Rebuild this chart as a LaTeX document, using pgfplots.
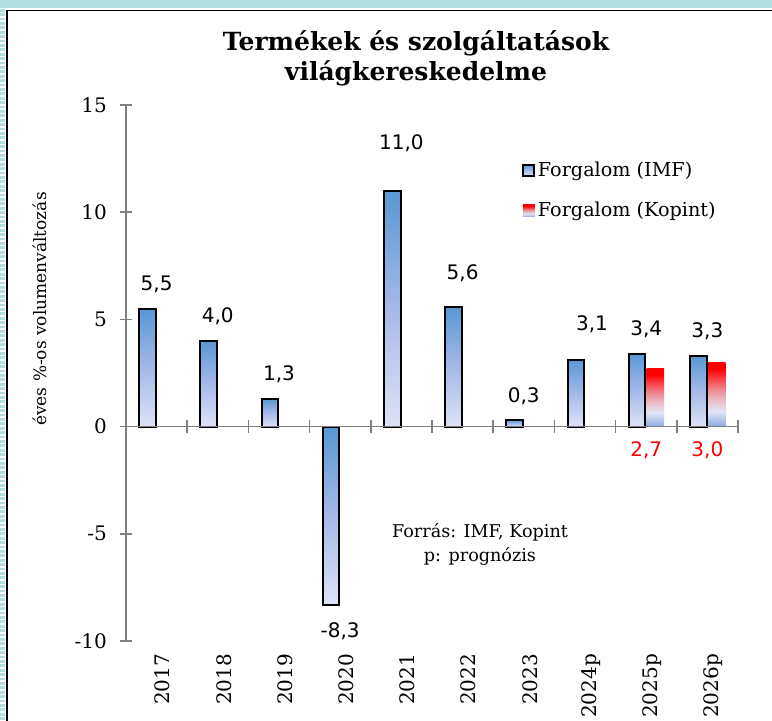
\documentclass[border=0pt]{standalone}
\usepackage{pgfplots}
\pgfplotsset{compat=1.18}
\usepackage{fontspec}
\setmainfont{DejaVu Serif}
\newfontfamily\sansf{DejaVu Sans}
\definecolor{tealb}{RGB}{176,222,222}
\definecolor{imftop}{RGB}{88,152,212}
\definecolor{imfmid}{RGB}{165,185,232}
\definecolor{imfbot}{RGB}{222,226,246}
\definecolor{kred}{RGB}{255,0,0}
\definecolor{kred1}{RGB}{250,60,65}
\definecolor{kred2}{RGB}{238,135,145}
\definecolor{kpink}{RGB}{232,192,202}
\definecolor{kwhite}{RGB}{226,230,245}
\definecolor{kblue}{RGB}{140,168,220}
\definecolor{axgray}{RGB}{128,128,128}
\pgfdeclareverticalshading{imfsh}{100bp}{color(0bp)=(imfbot); color(25bp)=(imfbot); color(50bp)=(imfmid); color(75bp)=(imftop); color(100bp)=(imftop)}
\pgfdeclareverticalshading{kopsh}{100bp}{color(0bp)=(kblue); color(25bp)=(kblue); color(37bp)=(kwhite); color(45bp)=(kpink); color(54bp)=(kred2); color(63bp)=(kred1); color(70bp)=(kred); color(75bp)=(kred); color(100bp)=(kred)}
\pgfplotsset{
  numlab/.style={
    nodes near coords={\pgfmathprintnumber[fixed,fixed zerofill,precision=1,use comma,assume math mode=true]{\pgfplotspointmeta}},
  },
  imfbar/.style={ybar, bar width=8.3pt, bar shift=-4.55pt, draw=black, line width=1pt, shade, shading=imfsh,
    numlab,
    every node near coord/.append style={font=\sansf\fontsize{10}{12}\selectfont, inner xsep=0pt, inner ysep=8.5pt, text height=7.3pt, text depth=0pt, black},
    legend image code/.code={\draw[line width=1pt, shade, shading=imfsh] (0pt,-2.8pt) rectangle (5.6pt,2.8pt);}},
  kopbar/.style={ybar, bar width=8.8pt, bar shift=4.55pt, draw=none, shade, shading=kopsh,
    visualization depends on={y \as \ry},
    numlab,
    every node near coord/.append style={font=\sansf\fontsize{10}{12}\selectfont, inner xsep=0pt, inner ysep=8.5pt, text height=7.3pt, text depth=0pt, kred, yshift={-(\ry*10.72+23.8)*1pt}},
    legend image code/.code={\shade[shading=kopsh] (0pt,-3pt) rectangle (6pt,3pt);}},
}
\begin{document}
\begin{tikzpicture}
\useasboundingbox (0,0) rectangle (386pt,360.5pt);
\fill[white] (0,0) rectangle (386pt,360.5pt);
\fill[tealb] (0,356.3pt) rectangle (386pt,360.5pt);
\draw[tealb, line width=2.6pt, dash pattern=on 1.4pt off 0.8pt] (1.3pt,360.5pt) -- (1.3pt,0);
\draw[black, line width=0.8pt] (3.4pt,0) -- (3.4pt,355.3pt) -- (386pt,355.3pt);
\node[align=center, font=\bfseries\fontsize{12.5}{15}\selectfont] at (208pt,331.3pt) {Termékek és szolgáltatások\\világkereskedelme};
\node[rotate=90, font=\fontsize{8.5}{10}\selectfont] at (20pt,206pt) {éves \%-os volumenváltozás};
\node[align=center, font=\fontsize{8.8}{12}\selectfont] at (240pt,88.5pt) {Forrás: IMF, Kopint\\p: prognózis};
\begin{axis}[
  at={(63pt,40pt)}, anchor=south west,
  scale only axis, width=306pt, height=268pt,
  xmin=0, xmax=10, ymin=-10, ymax=15,
  axis y line=left, axis x line=bottom,
  x axis line style={draw=none},
  y axis line style={-, draw=axgray, line width=0.8pt},
  ytick={-10,-5,0,5,10,15},
  tick align=center, ytick align=center,
  every non boxed y axis/.append style={ytick align=center},
  major tick length=6pt,
  ytick style={draw=axgray, line width=0.8pt},
  yticklabel style={font=\fontsize{10}{12}\selectfont, xshift=-3pt},
  /pgf/number format/assume math mode=true,
  xtick={0.5,1.5,2.5,3.5,4.5,5.5,6.5,7.5,8.5,9.5},
  xticklabels={2017,2018,2019,2020,2021,2022,2023,2024p,2025p,2026p},
  xtick style={draw=none},
  xticklabel style={rotate=90, anchor=east, font=\fontsize{10}{12}\selectfont, yshift=-3pt},
  clip=false,
  legend style={at={(rel axis cs:0.646,0.901)}, anchor=north west, draw=none, fill=none,
    font=\fontsize{9.6}{12}\selectfont, row sep=8.5pt, inner sep=0pt, nodes={inner sep=1.5pt}},
  legend cell align=left,
]
\addplot[imfbar] coordinates {(0.5,5.5)};
\addlegendentry{Forgalom (IMF)}
\addplot[kopbar] coordinates {(8.5,2.7)};
\addlegendentry{Forgalom (Kopint)}
\addplot[kopbar, forget plot] coordinates {(9.5,3.0)};
\addplot[imfbar, forget plot] coordinates {(1.5,4.0)};
\addplot[imfbar, forget plot] coordinates {(2.5,1.3)};
\addplot[imfbar, forget plot] coordinates {(3.5,-8.3)};
\addplot[imfbar, forget plot, every node near coord/.append style={yshift=11.8pt}] coordinates {(4.5,11.0)};
\addplot[imfbar, forget plot, every node near coord/.append style={yshift=4.3pt}] coordinates {(5.5,5.6)};
\addplot[imfbar, forget plot] coordinates {(6.5,0.3)};
\addplot[imfbar, forget plot, every node near coord/.append style={yshift=6pt, xshift=3.5pt}] coordinates {(7.5,3.1)};
\addplot[imfbar, forget plot] coordinates {(8.5,3.4)};
\addplot[imfbar, forget plot] coordinates {(9.5,3.3)};
\draw[axgray, line width=0.8pt] (axis cs:0,0) -- (axis cs:10,0);
\pgfplotsinvokeforeach{1,...,10}{\draw[axgray, line width=0.8pt] ([yshift=-3.2pt]axis cs:#1,0) -- ([yshift=3.2pt]axis cs:#1,0);}
\end{axis}
\end{tikzpicture}
\end{document}
